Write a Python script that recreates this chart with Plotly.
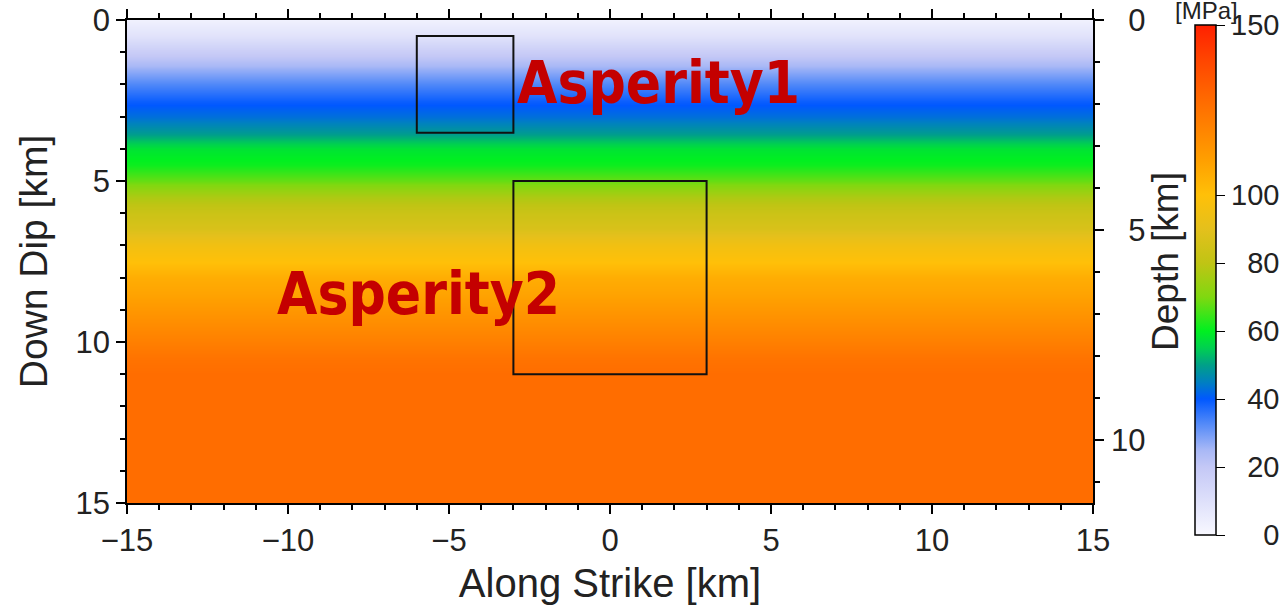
import math
import plotly.graph_objects as go

# ---------------- data ----------------
strike_km = [-15, -10, -5, 0, 5, 10, 15]          # along-strike sample columns (stress is uniform along strike)
dip_km = [0.0, 0.5, 1.0, 1.5, 2.0, 2.5, 3.0, 3.5, 4.0, 4.5, 5.0, 5.5, 6.0, 6.5, 7.0, 7.5,
          8.0, 8.5, 9.0, 9.5, 10.0, 10.5, 11.0, 11.5, 12.0, 12.5, 13.0, 13.5, 14.0, 14.5, 15.0]
stress_mpa = [3, 9, 18, 26, 33, 39, 43, 49, 58, 61, 68, 77, 83, 87, 95, 100,
              106, 109, 113, 117, 121, 125, 127, 127, 127, 127, 127, 127, 127, 127, 127]

asp_names = ["Asperity1", "Asperity2"]
asp_x0 = [-6, -3]
asp_x1 = [-3, 3]
asp_y0 = [0.5, 5]
asp_y1 = [3.5, 11]
label_x = [-2.95, -10.4]
label_y = [1.95, 8.5]

depth_ticks = [0, 5, 10]
depth_text = ["\u20070", "\u20075", "10"]
cbar_ticks = [0, 20, 40, 60, 80, 100, 150]
cbar_text = ["\u2007\u20070", "\u200720", "\u200740", "\u200760", "\u200780", "100", "150"]
DIP_ANGLE = 50  # degrees
# --------------------------------------

z = [[v] * len(strike_km) for v in stress_mpa]

colorscale = [
    [0.0, "#f8f8ff"],
    [0.1333, "#c4c8f6"],
    [0.1667, "#a8b8f6"],
    [0.22, "#5088f8"],
    [0.2667, "#0058ff"],
    [0.30, "#0080c0"],
    [0.3333, "#00a088"],
    [0.3667, "#00d050"],
    [0.40, "#00f020"],
    [0.4667, "#80d810"],
    [0.5333, "#c0c414"],
    [0.60, "#e4c01c"],
    [0.6667, "#ffc008"],
    [0.7333, "#ffa000"],
    [0.80, "#ff8200"],
    [0.8667, "#ff6400"],
    [0.9333, "#ff4400"],
    [1.0, "#ff2000"],
]

FONT = "Liberation Sans, Arial, Helvetica, sans-serif"
TXT = "#222"

fig = go.Figure()
fig.add_trace(go.Heatmap(
    x=strike_km, y=dip_km, z=z, zmin=0, zmax=150, zsmooth="best",
    colorscale=colorscale, hoverinfo="skip",
    colorbar=dict(
        x=(1195 - 127) / 966, xanchor="left", xpad=0, ypad=0,
        y=(503 - 25) / 483, yanchor="top",
        lenmode="pixels", len=510, thickness=21,
        outlinewidth=1.5, outlinecolor="black",
        ticks="outside", ticklen=9, tickwidth=1.2, tickcolor="black",
        tickmode="array", tickvals=cbar_ticks, ticktext=cbar_text,
        tickfont=dict(family=FONT, size=29, color=TXT),
    ),
))

# invisible trace to activate depth axis
max_depth = max(dip_km) * math.sin(math.radians(DIP_ANGLE))
fig.add_trace(go.Scatter(x=[strike_km[0]], y=[0], yaxis="y2", mode="markers",
                         marker=dict(opacity=0), hoverinfo="skip", showlegend=False))

for i in range(len(asp_names)):
    fig.add_shape(type="rect", xref="x", yref="y", x0=asp_x0[i], x1=asp_x1[i],
                  y0=asp_y0[i], y1=asp_y1[i], line=dict(color="#111", width=2))
    fig.add_annotation(x=label_x[i], y=label_y[i], xref="x", yref="y", text=asp_names[i],
                       showarrow=False, xanchor="left", yanchor="middle",
                       font=dict(family="DejaVu Sans Condensed, Liberation Sans Narrow, DejaVu Sans",
                                 size=58, color="#c40000", weight="bold"))

fig.add_annotation(x=(1206 - 127) / 966, y=(503 - 10) / 483, xref="paper", yref="paper",
                   text="[MPa]", showarrow=False, xanchor="center", yanchor="middle",
                   borderpad=0, font=dict(family=FONT, size=24, color=TXT))

axis_common = dict(showline=True, linewidth=1.5, linecolor="black", ticks="outside",
                   ticklen=9, tickwidth=1.5, tickcolor="black", showgrid=False, zeroline=False,
                   tickfont=dict(family=FONT, size=31, color=TXT))

fig.update_layout(
    width=1280, height=610,
    margin=dict(l=127, r=187, t=20, b=107, autoexpand=False),
    paper_bgcolor="white", plot_bgcolor="white",
    showlegend=False,
    xaxis=dict(range=[-15, 15], tick0=-15, dtick=5, mirror="ticks",
               minor=dict(dtick=1, tick0=-15, ticklen=5, ticks="outside", tickcolor="black"),
               title=dict(text="Along Strike [km]", standoff=12, font=dict(family=FONT, size=40, color=TXT)),
               **axis_common),
    yaxis=dict(range=[15, 0], tick0=0, dtick=5, mirror=True,
               minor=dict(dtick=1, tick0=0, ticklen=5, ticks="outside", tickcolor="black"),
               title=dict(text="Down Dip [km]", standoff=16, font=dict(family=FONT, size=39, color=TXT)),
               **axis_common),
    yaxis2=dict(overlaying="y", side="right", range=[max_depth, 0],
                tickmode="array", tickvals=depth_ticks, ticktext=depth_text,
                ticklabelstandoff=1,
                minor=dict(dtick=1, tick0=0, ticklen=5, ticks="outside", tickcolor="black"),
                title=dict(text="Depth [km]", standoff=6, font=dict(family=FONT, size=37, color=TXT)),
                **axis_common),
)

fig.write_html("out.html")
